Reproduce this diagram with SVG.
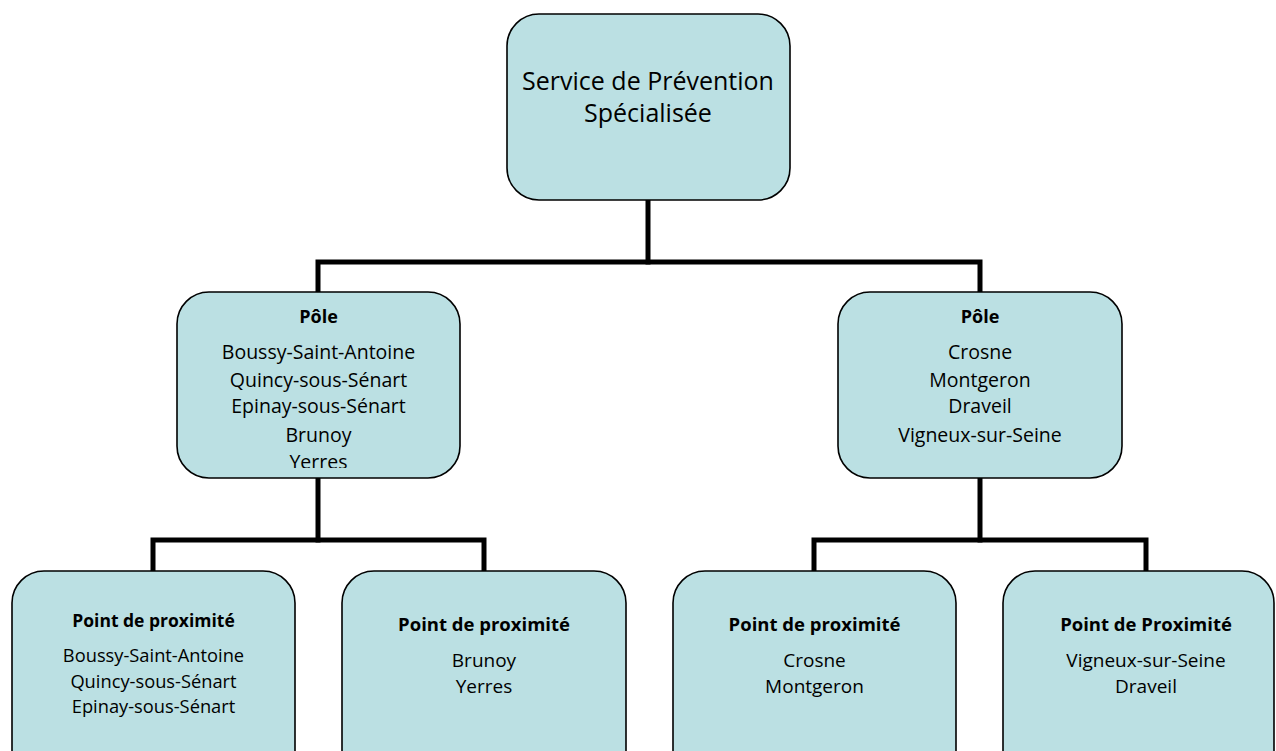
<svg xmlns="http://www.w3.org/2000/svg" width="1276" height="751" viewBox="0 0 1276 751">
<style>
.box{fill:#bbe0e3;stroke:#000;stroke-width:1.6}
.t{font-family:"Open Sans","Noto Sans",sans-serif;fill:#000;text-anchor:middle}
.b{font-weight:bold}
.conn{fill:none;stroke:#000;stroke-width:5;stroke-linecap:square;stroke-linejoin:miter}
</style>
<rect width="1276" height="751" fill="#fff"/>
<g id="connectors">
<polyline class="conn" points="648,200 648,262"/>
<polyline class="conn" points="318,292 318,262 980,262 980,292"/>
<polyline class="conn" points="318,478 318,540"/>
<polyline class="conn" points="153,570 153,540 484,540 484,570"/>
<polyline class="conn" points="980,478 980,540"/>
<polyline class="conn" points="814,570 814,540 1146,540 1146,570"/>
</g>
<g id="service">
<rect class="box" x="507" y="14" width="283" height="186" rx="32"/>
<text class="t" x="648" y="90" font-size="25">Service de Prévention</text>
<text class="t" x="648" y="122" font-size="25">Spécialisée</text>
</g>
<g id="pole-left">
<rect class="box" x="177" y="292" width="283" height="186" rx="32"/>
<text class="t b" x="318.5" y="323" font-size="18">Pôle</text>
<svg x="177" y="292" width="283" height="176" overflow="hidden">
<text class="t" x="141.5" y="67" font-size="19.5">Boussy-Saint-Antoine</text>
<text class="t" x="141.5" y="95" font-size="19.5">Quincy-sous-Sénart</text>
<text class="t" x="141.5" y="121" font-size="19.5">Epinay-sous-Sénart</text>
<text class="t" x="141.5" y="150" font-size="19.5">Brunoy</text>
<text class="t" x="141.5" y="177" font-size="19.5">Yerres</text>
</svg>
</g>
<g id="pole-right">
<rect class="box" x="838" y="292" width="284" height="186" rx="32"/>
<text class="t b" x="980" y="323" font-size="18">Pôle</text>
<text class="t" x="980" y="359" font-size="19.5">Crosne</text>
<text class="t" x="980" y="387" font-size="19.5">Montgeron</text>
<text class="t" x="980" y="413" font-size="19.5">Draveil</text>
<text class="t" x="980" y="442" font-size="19.5">Vigneux-sur-Seine</text>
</g>
<g id="point-1">
<rect class="box" x="12" y="571" width="283" height="230" rx="32"/>
<text class="t b" x="153.5" y="627" font-size="17.5">Point de proximité</text>
<text class="t" x="153.5" y="662" font-size="18.3">Boussy-Saint-Antoine</text>
<text class="t" x="153.5" y="688" font-size="18.3">Quincy-sous-Sénart</text>
<text class="t" x="153.5" y="713" font-size="18.3">Epinay-sous-Sénart</text>
</g>
<g id="point-2">
<rect class="box" x="342" y="571" width="284" height="230" rx="32"/>
<text class="t b" x="484" y="631" font-size="18.5">Point de proximité</text>
<text class="t" x="484" y="667" font-size="19">Brunoy</text>
<text class="t" x="484" y="693" font-size="19">Yerres</text>
</g>
<g id="point-3">
<rect class="box" x="673" y="571" width="283" height="230" rx="32"/>
<text class="t b" x="814.5" y="631" font-size="18.5">Point de proximité</text>
<text class="t" x="814.5" y="667" font-size="19">Crosne</text>
<text class="t" x="814.5" y="693" font-size="19">Montgeron</text>
</g>
<g id="point-4">
<rect class="box" x="1003" y="571" width="271" height="230" rx="32"/>
<text class="t b" x="1146" y="631" font-size="18.5">Point de Proximité</text>
<text class="t" x="1146" y="667" font-size="19">Vigneux-sur-Seine</text>
<text class="t" x="1146" y="693" font-size="19">Draveil</text>
</g>
</svg>
